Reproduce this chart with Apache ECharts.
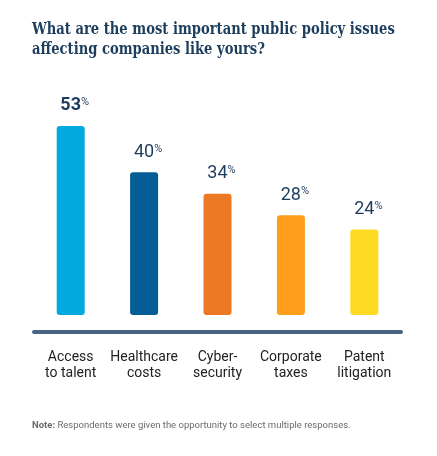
<!DOCTYPE html>
<html>
<head>
<meta charset="utf-8">
<script src="https://cdn.jsdelivr.net/npm/echarts@6/dist/echarts.min.js"></script>
<style>
  html, body { margin: 0; padding: 0; background: #fff; }
  #box { width: 437px; height: 456px; }
</style>
</head>
<body>
<div id="box"></div>
<script>
// data
let categories = ["Access\nto talent", "Healthcare\ncosts", "Cyber-\nsecurity", "Corporate\ntaxes", "Patent\nlitigation"];
let values = [53, 40, 34, 28, 24];
let barColors = ["#02a8e0", "#055d98", "#ee7925", "#fd9f1b", "#fedb22"];
let titleText = "What are the most important public policy issues\naffecting companies like yours?";
let noteLabel = "Note:";
let noteText = " Respondents were given the opportunity to select multiple responses.";

let navy = "#1c3d5c";
let chart = echarts.init(document.getElementById("box"), null, { renderer: "canvas" });

let seriesData = values.map((v, i) => {
  let item = { value: v, itemStyle: { color: barColors[i] } };
  //# first value is set in bold
  if (i === 0) {
    item.label = { formatter: "{vb|{c}}{pb|%}" };
  }
  return item;
});

let option = {
  animation: false,
  grid: { left: 34, right: 36, top: 101, bottom: 141 },
  xAxis: {
    type: "category",
    data: categories,
    offset: 17,
    axisLine: {
      onZero: false,
      lineStyle: { color: "#476581", width: 4, cap: "round" }
    },
    axisTick: { show: false },
    axisLabel: {
      interval: 0,
      margin: 17,
      fontFamily: "Roboto",
      fontSize: 14,
      lineHeight: 16,
      color: "#222"
    }
  },
  yAxis: {
    type: "value",
    min: 0,
    max: 60,
    show: false,
    splitLine: { show: false }
  },
  series: [
    {
      type: "bar",
      data: seriesData,
      barWidth: 28,
      itemStyle: { borderRadius: 3 },
      label: {
        show: true,
        position: "top",
        distance: 11,
        offset: [4, 0],
        formatter: "{v|{c}}{p|%}",
        rich: {
          v: { fontFamily: "Roboto", fontSize: 18, color: navy },
          p: { fontFamily: "Roboto", fontSize: 11, color: navy, verticalAlign: "top", padding: [0, 0, 6, 0] },
          vb: { fontFamily: "Roboto", fontWeight: "bold", fontSize: 18, color: navy },
          pb: { fontFamily: "Roboto", fontSize: 11, color: navy, verticalAlign: "top", padding: [0, 0, 6, 0] }
        }
      }
    }
  ],
  graphic: [
    {
      // title, squeezed a little to match the condensed slab face
      type: "text",
      x: 32,
      y: 20,
      scaleX: 0.82,
      style: {
        text: titleText,
        font: "bold 16px 'DejaVu Serif'",
        lineHeight: 20,
        fill: navy
      }
    },
    {
      type: "text",
      left: 32,
      top: 421,
      style: {
        text: "{b|" + noteLabel + "}" + noteText,
        font: "9.5px Roboto",
        fill: "#6b6b6b",
        rich: {
          b: { fontWeight: "bold", fontSize: 9.5, fontFamily: "Roboto", fill: "#6b6b6b" }
        }
      }
    }
  ]
};

chart.setOption(option);
</script>
</body>
</html>
